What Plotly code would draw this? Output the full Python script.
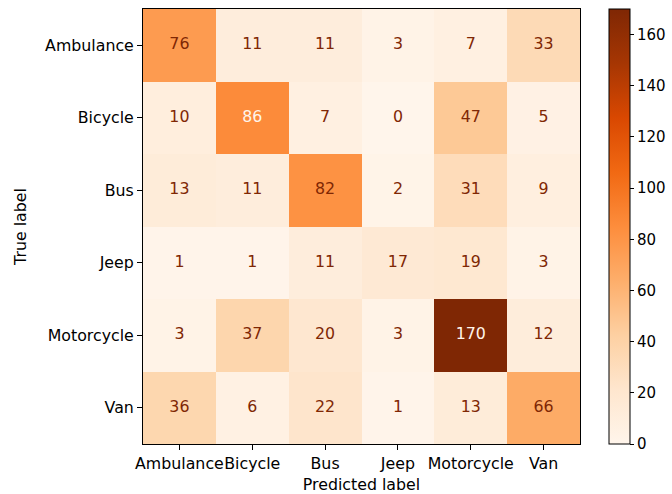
import plotly.graph_objects as go

labels = ["Ambulance", "Bicycle", "Bus", "Jeep", "Motorcycle", "Van"]
matrix = [
    [76, 11, 11, 3, 7, 33],
    [10, 86, 7, 0, 47, 5],
    [13, 11, 82, 2, 31, 9],
    [1, 1, 11, 17, 19, 3],
    [3, 37, 20, 3, 170, 12],
    [36, 6, 22, 1, 13, 66],
]
cbar_ticks = [0, 20, 40, 60, 80, 100, 120, 140, 160]

oranges = [
    [0.0, "#fff5eb"], [0.125, "#fee6ce"], [0.25, "#fdd0a2"], [0.375, "#fdae6b"],
    [0.5, "#fd8d3c"], [0.625, "#f16913"], [0.75, "#d94801"], [0.875, "#a63603"],
    [1.0, "#7f2704"],
]

zmax = max(max(r) for r in matrix)
zmin = min(min(r) for r in matrix)
thresh = (zmax + zmin) / 2.0

font = "DejaVu Sans, Verdana, sans-serif"
fs = 15.8

fig = go.Figure()
fig.add_trace(go.Heatmap(
    z=matrix, x=labels, y=labels, colorscale=oranges, zmin=0, zmax=zmax,
    xgap=0, ygap=0, hoverinfo="skip",
    colorbar=dict(
        x=1.066, xanchor="left", xref="paper", y=0.5, yanchor="middle",
        len=1.0, lenmode="fraction", thickness=21, thicknessmode="pixels",
        outlinecolor="black", outlinewidth=1, xpad=0, ypad=0,
        tickvals=cbar_ticks, ticks="outside", ticklen=4, tickwidth=1, tickcolor="black",
        tickfont=dict(family=font, size=15, color="black"),
    ),
))

xs, ys, texts, colors = [], [], [], []
for i, row in enumerate(matrix):
    for j, v in enumerate(row):
        xs.append(labels[j])
        ys.append(labels[i])
        texts.append(str(v))
        colors.append("#fff5eb" if v > thresh else "#7f2704")

fig.add_trace(go.Scatter(
    x=xs, y=ys, mode="text", text=texts,
    textfont=dict(family=font, size=fs, color=colors),
    hoverinfo="skip", showlegend=False,
))

fig.update_layout(
    width=672, height=494,
    margin=dict(l=143, r=92, t=9, b=50, autoexpand=False),
    paper_bgcolor="white", plot_bgcolor="white",
    showlegend=False,
    font=dict(family=font, size=fs, color="black"),
)
fig.update_xaxes(
    type="category", showgrid=False, zeroline=False,
    showline=True, linecolor="black", linewidth=1, mirror=True,
    ticks="outside", ticklen=5, tickcolor="black", tickangle=0,
    tickfont=dict(family=font, size=fs, color="black"),
    title=dict(text="Predicted label", font=dict(family=font, size=fs, color="black"), standoff=8),
    range=[-0.5, 5.5], automargin=False,
)
fig.update_yaxes(
    type="category", showgrid=False, zeroline=False,
    showline=True, linecolor="black", linewidth=1, mirror=True,
    ticks="outside", ticklen=5, tickcolor="black",
    tickfont=dict(family=font, size=fs, color="black"),
    title=dict(text="True label", font=dict(family=font, size=fs, color="black"), standoff=14),
    range=[5.5, -0.5], automargin=False,
)

fig.write_html(
    "out.html",
    config={"displayModeBar": False},
    post_script="document.body.style.margin='0px';document.body.style.overflow='hidden';",
)
